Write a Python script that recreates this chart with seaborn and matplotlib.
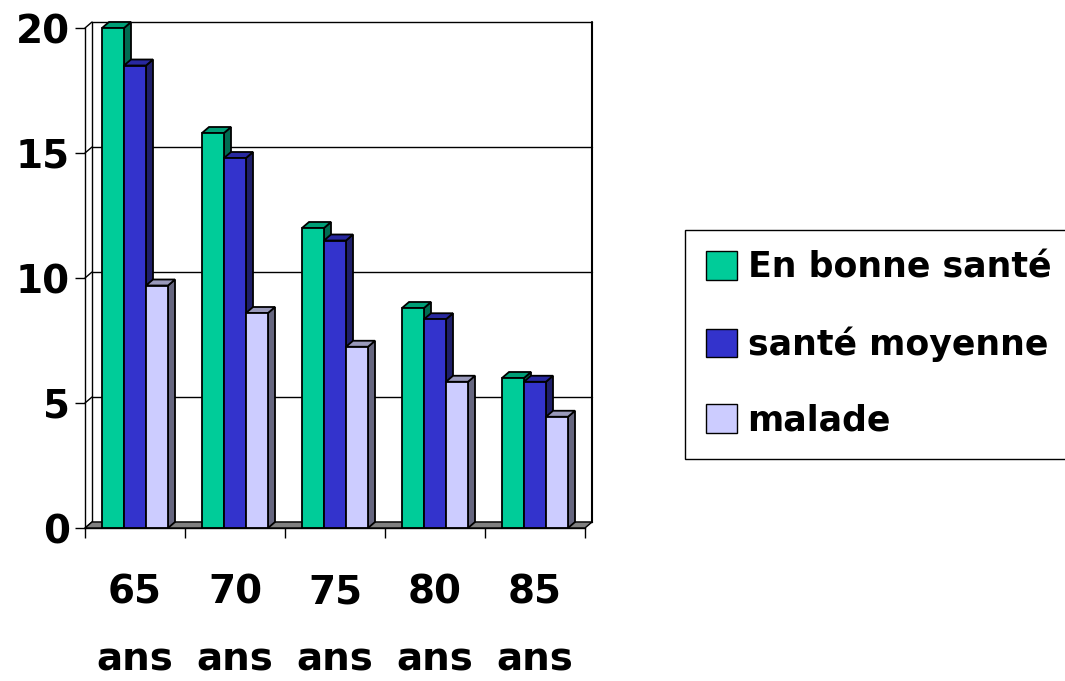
import matplotlib
matplotlib.use("Agg")
import matplotlib.pyplot as plt
import seaborn as sns
import pandas as pd
from matplotlib.patches import Polygon, Rectangle
from matplotlib.lines import Line2D

categories = ["65\nans", "70\nans", "75\nans", "80\nans", "85\nans"]
series_names = ["En bonne santé", "santé moyenne", "malade"]
bonne_sante = [20.0, 15.8, 12.0, 8.8, 6.0]
sante_moyenne = [18.5, 14.8, 11.5, 8.35, 5.85]
malade = [9.7, 8.6, 7.25, 5.85, 4.45]
y_ticks = [0, 5, 10, 15, 20]

front_colors = ["#00CC99", "#3333CC", "#CCCCFF"]
side_colors = ["#006B50", "#1F1F6B", "#66667F"]
top_colors = ["#009E76", "#2828A0", "#9999BB"]

sns.set_style("white")
plt.rcParams["font.family"] = ["DejaVu Sans"]
plt.rcParams["font.weight"] = "bold"
plt.rcParams["text.color"] = "black"
plt.rcParams["xtick.color"] = "black"
plt.rcParams["ytick.color"] = "black"

rows = []
for name, vals in zip(series_names, [bonne_sante, sante_moyenne, malade]):
    for c, v in zip(categories, vals):
        rows.append({"age": c, "valeur": v, "etat": name})
df = pd.DataFrame(rows)

fig = plt.figure(figsize=(10.65, 6.81), dpi=100)
ax = fig.add_axes([85 / 1065, (681 - 528) / 681, 500 / 1065, 500 / 681])

LW = 1.3
sns.barplot(data=df, x="age", y="valeur", hue="etat", order=categories,
            hue_order=series_names, palette=front_colors, width=0.66, gap=0,
            edgecolor="black", linewidth=LW, saturation=1, legend=False,
            errorbar=None, ax=ax)

ax.set_xlim(-0.5, 4.5)
ax.set_ylim(0, 20)

dx, dy = 0.07, 0.24

# Back wall, gridlines and floor
for v in y_ticks:
    ax.add_line(Line2D([-0.5 + dx, 4.5 + dx], [v + dy, v + dy], color="black",
                       lw=1.0, zorder=0.5, clip_on=False))
    ax.add_line(Line2D([-0.5, -0.5 + dx], [v, v + dy], color="black",
                       lw=1.0, zorder=0.5, clip_on=False))
ax.add_line(Line2D([-0.5 + dx, -0.5 + dx], [dy, 20 + dy], color="black",
                   lw=1.0, zorder=0.5, clip_on=False))
ax.add_line(Line2D([4.5 + dx, 4.5 + dx], [dy, 20 + dy], color="black",
                   lw=1.5, zorder=0.5, clip_on=False))
floor = Polygon([(-0.5, 0), (4.5, 0), (4.5 + dx, dy), (-0.5 + dx, dy)],
                closed=True, facecolor="#808080", edgecolor="black", lw=1.0,
                zorder=0.8, clip_on=False)
ax.add_patch(floor)

# 3D faces of bars
bars = [p for p in ax.patches if isinstance(p, Rectangle) and p is not floor]
bars_sorted = sorted(bars, key=lambda p: p.get_x())
for i, p in enumerate(bars_sorted):
    x, w, h = p.get_x(), p.get_width(), p.get_height()
    fc = p.get_facecolor()
    k = min(range(3), key=lambda j: sum(abs(a - b) for a, b in zip(matplotlib.colors.to_rgb(front_colors[j]), fc[:3])))
    z = 2 + i * 0.01
    side = Polygon([(x + w, 0), (x + w + dx, dy), (x + w + dx, h + dy), (x + w, h)],
                   closed=True, facecolor=side_colors[k], edgecolor="black",
                   lw=LW, zorder=z, clip_on=False)
    top = Polygon([(x, h), (x + w, h), (x + w + dx, h + dy), (x + dx, h + dy)],
                  closed=True, facecolor=top_colors[k], edgecolor="black",
                  lw=LW, zorder=z, clip_on=False)
    ax.add_patch(side)
    ax.add_patch(top)
    p.set_zorder(z + 0.005)
    p.set_clip_on(False)

for s in ["top", "right"]:
    ax.spines[s].set_visible(False)
ax.spines["left"].set_bounds(0, 20)
ax.spines["left"].set_linewidth(1.0)
ax.spines["bottom"].set_linewidth(1.0)
ax.spines["left"].set_color("black")
ax.spines["bottom"].set_color("black")
ax.spines["left"].set_zorder(3)

ax.set_yticks(y_ticks)
ax.set_yticklabels([str(t) for t in y_ticks], fontsize=28, fontweight="bold")
ax.tick_params(axis="y", direction="out", length=7, width=1, pad=4, left=True)

ax.set_xticks([-0.5, 0.5, 1.5, 2.5, 3.5, 4.5])
ax.set_xticklabels([""] * 6)
ax.set_xticks(range(len(categories)), minor=True)
ax.set_xticklabels(categories, minor=True, fontsize=28, fontweight="bold",
                   linespacing=1.95)
ax.tick_params(axis="x", which="major", direction="out", length=7, width=1,
               bottom=True)
ax.tick_params(axis="x", which="minor", length=0, pad=33)
ax.set_xlabel("")
ax.set_ylabel("")

handles = [Rectangle((0, 0), 1, 1, facecolor=c, edgecolor="black", lw=1.0)
           for c in front_colors]
leg = fig.legend(handles, series_names, loc="upper left",
                 bbox_to_anchor=(685 / 1065, 1 - 230 / 681),
                 bbox_transform=fig.transFigure, frameon=True, fancybox=False,
                 edgecolor="black", framealpha=1, borderaxespad=0,
                 prop={"size": 25, "weight": "bold"}, handlelength=0.9,
                 handleheight=0.9, handletextpad=0.3, labelspacing=1.2,
                 borderpad=0.6)
leg.get_frame().set_linewidth(1.0)
for t in leg.get_texts():
    t.set_color("black")

fig.savefig("out.png", dpi=100)
